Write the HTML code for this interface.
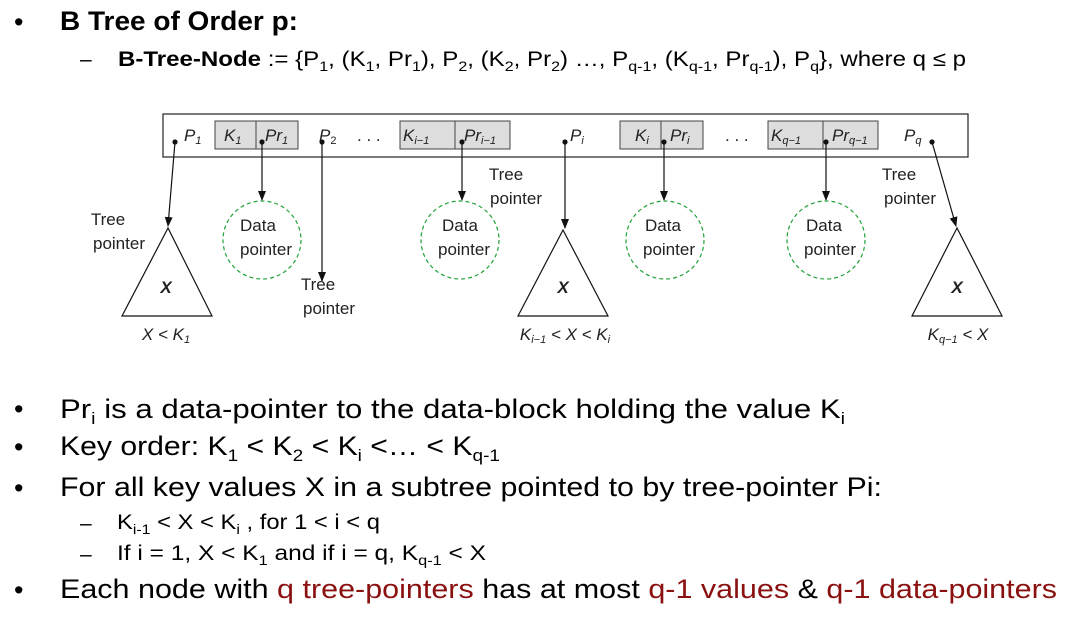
<!DOCTYPE html>
<html><head><meta charset="utf-8"><style>
html,body{margin:0;padding:0;background:#fff;}
svg{display:block;font-family:"Liberation Sans",sans-serif;}
.t{font-size:27px;fill:#000;}
.s{font-size:21px;fill:#000;}
.d{font-size:17px;fill:#222;}
.r{fill:#8b1010;}
</style></head><body>
<svg width="1076" height="624" viewBox="0 0 1076 624">
<defs><marker id="ah" markerWidth="10" markerHeight="10" refX="9" refY="5" orient="auto" markerUnits="userSpaceOnUse"><path d="M0,1 L10,5 L0,9 z" fill="#111"/></marker></defs>
<g>
<text x="14" y="31" class="t">•</text>
<text x="60" y="30" font-size="27" font-weight="bold" textLength="238" lengthAdjust="spacingAndGlyphs">B Tree of Order p:</text>
</g>
<g>
<text x="80" y="66" class="s">–</text>
<text x="118" y="66" class="s" textLength="848" lengthAdjust="spacingAndGlyphs"><tspan font-weight="bold">B-Tree-Node</tspan> := {P<tspan dy="5" font-size="14">1</tspan><tspan dy="-5">, (K</tspan><tspan dy="5" font-size="14">1</tspan><tspan dy="-5">, Pr</tspan><tspan dy="5" font-size="14">1</tspan><tspan dy="-5">), P</tspan><tspan dy="5" font-size="14">2</tspan><tspan dy="-5">, (K</tspan><tspan dy="5" font-size="14">2</tspan><tspan dy="-5">, Pr</tspan><tspan dy="5" font-size="14">2</tspan><tspan dy="-5">) …, P</tspan><tspan dy="5" font-size="14">q-1</tspan><tspan dy="-5">, (K</tspan><tspan dy="5" font-size="14">q-1</tspan><tspan dy="-5">, Pr</tspan><tspan dy="5" font-size="14">q-1</tspan><tspan dy="-5">), P</tspan><tspan dy="5" font-size="14">q</tspan><tspan dy="-5">}, where q ≤ p</tspan></text>
</g>

<g>
<rect x="163" y="114" width="805" height="43" fill="#fff" stroke="#333" stroke-width="1.3"/>
<g fill="#ddd" stroke="#444" stroke-width="1">
<rect x="215" y="121" width="83" height="28"/><line x1="256" y1="121" x2="256" y2="149"/>
<rect x="400" y="121" width="110" height="28"/><line x1="455" y1="121" x2="455" y2="149"/>
<rect x="620" y="121" width="83" height="28"/><line x1="661" y1="121" x2="661" y2="149"/>
<rect x="768" y="121" width="110" height="28"/><line x1="823" y1="121" x2="823" y2="149"/>
</g>
<g class="d" font-style="italic" font-size="17">
<text x="184" y="141">P<tspan font-size="11" dy="3">1</tspan></text>
<text x="224" y="141">K<tspan font-size="11" dy="3">1</tspan></text>
<text x="265" y="141">Pr<tspan font-size="11" dy="3">1</tspan></text>
<text x="319" y="141">P<tspan font-size="11" dy="3" font-style="normal">2</tspan></text>
<text x="357" y="141" font-style="normal">. . .</text>
<text x="403" y="141">K<tspan font-size="11" dy="3">i−1</tspan></text>
<text x="464" y="141">Pr<tspan font-size="11" dy="3">i−1</tspan></text>
<text x="570" y="141">P<tspan font-size="11" dy="3">i</tspan></text>
<text x="635" y="141">K<tspan font-size="11" dy="3">i</tspan></text>
<text x="670" y="141">Pr<tspan font-size="11" dy="3">i</tspan></text>
<text x="725" y="141" font-style="normal">. . .</text>
<text x="771" y="141">K<tspan font-size="11" dy="3">q−1</tspan></text>
<text x="832" y="141">Pr<tspan font-size="11" dy="3">q−1</tspan></text>
<text x="904" y="141">P<tspan font-size="11" dy="3">q</tspan></text>
</g>
<g fill="#111">
<circle cx="175" cy="142" r="2.6"/><circle cx="262" cy="142" r="2.6"/><circle cx="322" cy="142" r="2.6"/>
<circle cx="462" cy="142" r="2.6"/><circle cx="565" cy="142" r="2.6"/><circle cx="664" cy="142" r="2.6"/>
<circle cx="826" cy="142" r="2.6"/><circle cx="932" cy="142" r="2.6"/>
</g>
<g stroke="#111" stroke-width="1.2" marker-end="url(#ah)">
<line x1="175" y1="142" x2="168" y2="226"/>
<line x1="262" y1="142" x2="262" y2="200"/>
<line x1="322" y1="142" x2="322" y2="281"/>
<line x1="462" y1="142" x2="462" y2="200"/>
<line x1="565" y1="142" x2="565" y2="228"/>
<line x1="664" y1="142" x2="664" y2="200"/>
<line x1="826" y1="142" x2="826" y2="200"/>
<line x1="932" y1="142" x2="956" y2="226"/>
</g>
<g fill="none" stroke="#22a33a" stroke-width="1.2" stroke-dasharray="4,3">
<circle cx="262" cy="240" r="39"/><circle cx="460" cy="240" r="39"/>
<circle cx="665" cy="240" r="39"/><circle cx="826" cy="240" r="39"/>
</g>
<g class="d" text-anchor="middle">
<text x="258" y="231">Data</text><text x="266" y="255">pointer</text>
<text x="460" y="231">Data</text><text x="464" y="255">pointer</text>
<text x="663" y="231">Data</text><text x="669" y="255">pointer</text>
<text x="824" y="231">Data</text><text x="830" y="255">pointer</text>
<text x="108" y="225">Tree</text><text x="119" y="249">pointer</text>
<text x="318" y="290">Tree</text><text x="329" y="314">pointer</text>
<text x="506" y="180">Tree</text><text x="516" y="204">pointer</text>
<text x="899" y="180">Tree</text><text x="910" y="204">pointer</text>
</g>
<g fill="#fff" stroke="#111" stroke-width="1.2">
<polygon points="168,228 122,316 212,316"/>
<polygon points="563,230 518,316 608,316"/>
<polygon points="957,228 912,316 1002,316"/>
</g>
<g class="d" text-anchor="middle" font-style="italic">
<text x="166" y="293" font-weight="bold">X</text>
<text x="563" y="293" font-weight="bold">X</text>
<text x="957" y="293" font-weight="bold">X</text>
<text x="166" y="340">X &lt; K<tspan font-size="11" dy="3">1</tspan></text>
<text x="565" y="340">K<tspan font-size="11" dy="3">i−1</tspan><tspan dy="-3"> &lt; X &lt; K</tspan><tspan font-size="11" dy="3">i</tspan></text>
<text x="958" y="340">K<tspan font-size="11" dy="3">q−1</tspan><tspan dy="-3"> &lt; X</tspan></text>
</g>
</g>

<g>
<text x="14" y="418" class="t">•</text>
<text x="60" y="418" class="t" textLength="785" lengthAdjust="spacingAndGlyphs">Pr<tspan dy="6" font-size="17">i</tspan><tspan dy="-6"> is a data-pointer to the data-block holding the value K</tspan><tspan dy="6" font-size="17">i</tspan></text>
<text x="14" y="456" class="t">•</text>
<text x="60" y="455" class="t" textLength="440" lengthAdjust="spacingAndGlyphs">Key order: K<tspan dy="6" font-size="17">1</tspan><tspan dy="-6"> &lt;   K</tspan><tspan dy="6" font-size="17">2</tspan><tspan dy="-6">  &lt; K</tspan><tspan dy="6" font-size="17">i</tspan><tspan dy="-6"> &lt;… &lt; K</tspan><tspan dy="6" font-size="17">q-1</tspan></text>
<text x="14" y="497" class="t">•</text>
<text x="60" y="496" class="t" textLength="822" lengthAdjust="spacingAndGlyphs">For all key values X in a subtree pointed to by tree-pointer Pi:</text>
<text x="80" y="530" class="s">–</text>
<text x="117" y="529" class="s" textLength="263" lengthAdjust="spacingAndGlyphs">K<tspan dy="5" font-size="14">i-1</tspan><tspan dy="-5"> &lt; X &lt; K</tspan><tspan dy="5" font-size="14">i</tspan><tspan dy="-5"> , for 1 &lt; i &lt; q</tspan></text>
<text x="80" y="561" class="s">–</text>
<text x="117" y="560" class="s" textLength="369" lengthAdjust="spacingAndGlyphs">If i  = 1, X &lt; K<tspan dy="5" font-size="14">1</tspan><tspan dy="-5"> and if i = q, K</tspan><tspan dy="5" font-size="14">q-1</tspan><tspan dy="-5"> &lt; X</tspan></text>
<text x="14" y="599" class="t">•</text>
<text x="60" y="598" class="t" textLength="997" lengthAdjust="spacingAndGlyphs">Each node with <tspan class="r">q tree-pointers</tspan> has at most <tspan class="r">q-1 values</tspan> &amp; <tspan class="r">q-1 data-pointers</tspan></text>
</g>
</svg>
</body></html>
